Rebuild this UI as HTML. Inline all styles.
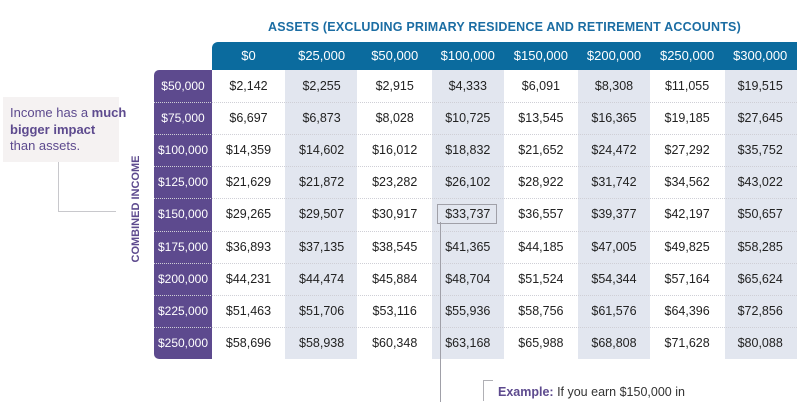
<!DOCTYPE html>
<html><head><meta charset="utf-8"><style>
body{margin:0;width:809px;height:400px;background:#fff;position:relative;overflow:hidden;font-family:"Liberation Sans",sans-serif}
.a{position:absolute}
.title{left:212px;width:585px;top:20px;text-align:center;color:#1b6da3;font-weight:bold;font-size:12.5px;letter-spacing:0.2px}
.hdr{left:212px;top:42px;width:585px;height:28px;background:#0b6b9e;border-top-left-radius:6px}
.hc{top:42px;height:28px;line-height:28px;width:73px;text-align:center;color:#fff;font-size:13px}
.inc{left:154px;top:70px;width:58px;height:289px;background:#5d4a8e;border-top-left-radius:5px;border-bottom-left-radius:5px}
.shade{top:70px;height:289px;width:72px;background:#e2e6ef}
.ic{left:154px;width:58px;height:32px;line-height:32px;text-align:center;color:#fff;font-size:12px}
.dc{width:73px;height:32px;line-height:32px;text-align:center;color:#222;font-size:12.5px}
.dl{left:154px;width:643px;height:0;border-top:1.5px dotted #cfcfd6}
</style></head><body>
<div class="a title">ASSETS (EXCLUDING PRIMARY RESIDENCE AND RETIREMENT ACCOUNTS)</div>
<div class="a hdr"></div>
<div class="a inc"></div>
<div class="a shade" style="left:285px"></div>
<div class="a shade" style="left:432px"></div>
<div class="a shade" style="left:578px"></div>
<div class="a shade" style="left:725px"></div>
<div id="g"></div>
<div class="a" style="left:3px;top:97px;width:116px;height:65px;background:#f5f2f2"></div>
<div class="a" style="left:10px;top:105px;color:#5d4a8e;font-size:13px;line-height:16.5px;white-space:nowrap">Income has a <b>much<br>bigger impact</b><br>than assets.</div>
<div class="a" style="left:58px;top:162px;width:57px;height:49px;border-left:1.5px solid #c8c8cc;border-bottom:1.5px solid #c8c8cc"></div>
<div class="a" style="left:136px;top:209px;transform:translate(-50%,-50%) rotate(-90deg);color:#5d4a8e;font-weight:bold;font-size:11px;white-space:nowrap">COMBINED INCOME</div>
<div class="a" style="left:437px;top:204px;width:58px;height:18px;border:1.5px solid #a0a0a8"></div>
<div class="a" style="left:440px;top:222px;width:0;height:180px;border-left:1.5px solid #a0a0a8"></div>
<div class="a" style="left:483px;top:380px;width:9px;height:20px;border-left:1.5px solid #b0b0b5;border-top:1.5px solid #b0b0b5"></div>
<div class="a" style="left:498px;top:385px;font-size:12.5px;color:#333;white-space:nowrap"><b style="color:#5d4a8e">Example:</b> If you earn $150,000 in</div>
<script>
var H=["$0","$25,000","$50,000","$100,000","$150,000","$200,000","$250,000","$300,000"];
var I=["$50,000","$75,000","$100,000","$125,000","$150,000","$175,000","$200,000","$225,000","$250,000"];
var D=[["$2,142","$2,255","$2,915","$4,333","$6,091","$8,308","$11,055","$19,515"],
["$6,697","$6,873","$8,028","$10,725","$13,545","$16,365","$19,185","$27,645"],
["$14,359","$14,602","$16,012","$18,832","$21,652","$24,472","$27,292","$35,752"],
["$21,629","$21,872","$23,282","$26,102","$28,922","$31,742","$34,562","$43,022"],
["$29,265","$29,507","$30,917","$33,737","$36,557","$39,377","$42,197","$50,657"],
["$36,893","$37,135","$38,545","$41,365","$44,185","$47,005","$49,825","$58,285"],
["$44,231","$44,474","$45,884","$48,704","$51,524","$54,344","$57,164","$65,624"],
["$51,463","$51,706","$53,116","$55,936","$58,756","$61,576","$64,396","$72,856"],
["$58,696","$58,938","$60,348","$63,168","$65,988","$68,808","$71,628","$80,088"]];
var h="";
for(var j=0;j<8;j++)h+='<div class="a hc" style="left:'+(212+j*73.1)+'px">'+H[j]+'</div>';
for(var i=0;i<9;i++){var y=70+i*32.1;
if(i>0)h+='<div class="a dl" style="top:'+y+'px"></div>';
h+='<div class="a ic" style="top:'+y+'px">'+I[i]+'</div>';
for(var j=0;j<8;j++)h+='<div class="a dc" style="top:'+y+'px;left:'+(212+j*73.1)+'px">'+D[i][j]+'</div>';}
document.getElementById("g").innerHTML=h;
</script>
</body></html>
